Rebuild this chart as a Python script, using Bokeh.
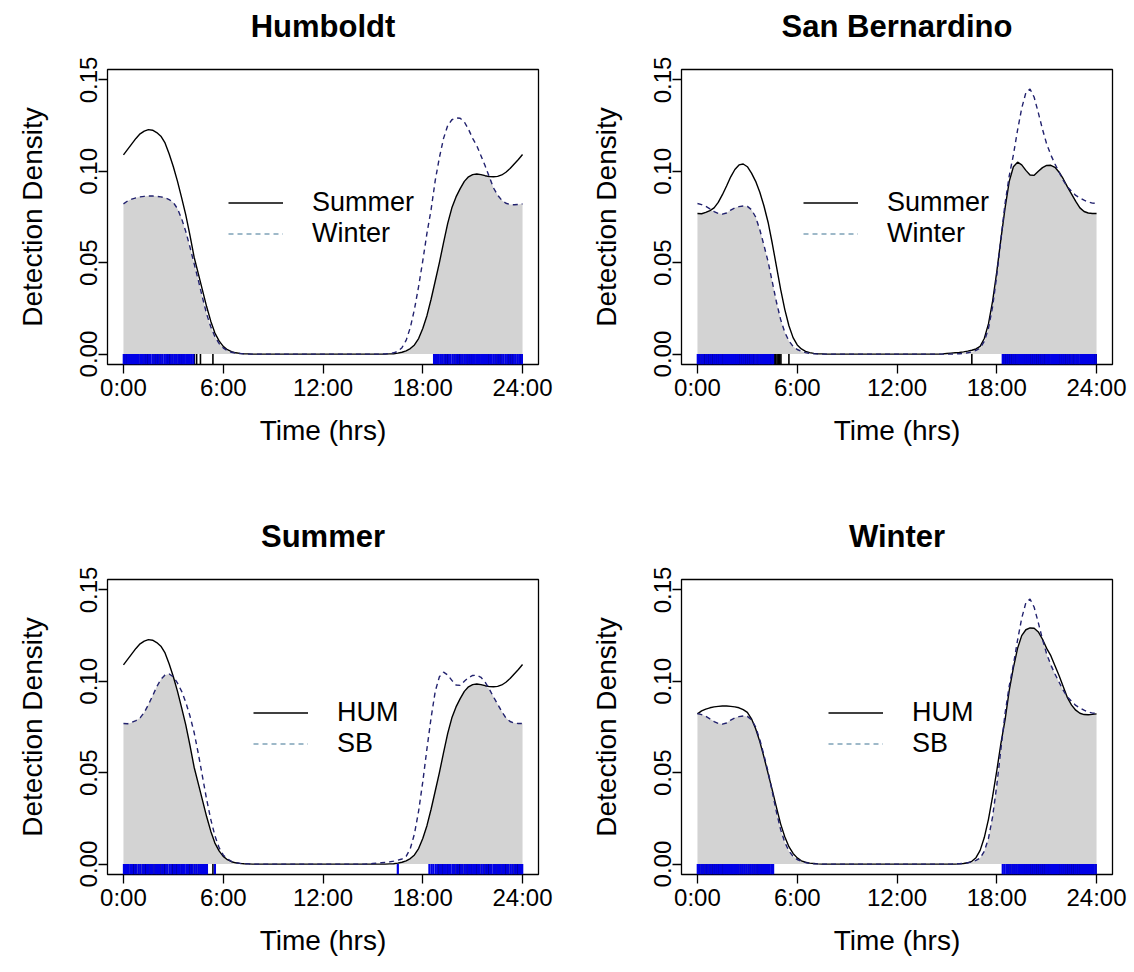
import numpy as np
from bokeh.plotting import figure
from bokeh.models import Range1d, FixedTicker, Legend, LegendItem, LinearAxis
from bokeh.layouts import gridplot
from bokeh.embed import file_html
from bokeh.resources import INLINE

# ---------------- data ----------------
hours = np.arange(0, 24.001, 0.25)  # kernel density evaluation grid (hrs)

hum_summer = [
    0.1090, 0.1120, 0.1150, 0.1180, 0.1205, 0.1220, 0.1228, 0.1225,
    0.1212, 0.1192, 0.1155, 0.1095, 0.1025, 0.0945, 0.0855, 0.0760,
    0.0650, 0.0530, 0.0440, 0.0350, 0.0260, 0.0180, 0.0115, 0.0072,
    0.0042, 0.0024, 0.0013, 0.0007, 0.0004, 0.0002, 0.0001, 0.0000,
    0, 0, 0, 0, 0, 0, 0, 0,
    0, 0, 0, 0, 0, 0, 0, 0,
    0, 0, 0, 0, 0, 0, 0, 0,
    0, 0, 0, 0, 0, 0, 0, 0.0000,
    0.0001, 0.0002, 0.0005, 0.0010, 0.0018, 0.0030, 0.0050, 0.0085,
    0.0140, 0.0210, 0.0300, 0.0400, 0.0500, 0.0610, 0.0715, 0.0800,
    0.0860, 0.0905, 0.0945, 0.0970, 0.0982, 0.0985, 0.0982, 0.0976,
    0.0971, 0.0970, 0.0972, 0.0980, 0.0995, 0.1015, 0.1040, 0.1065,
    0.1092]

hum_winter = [
    0.0822, 0.0838, 0.0848, 0.0855, 0.0860, 0.0863, 0.0865, 0.0865,
    0.0863, 0.0860, 0.0855, 0.0845, 0.0830, 0.0795, 0.0740, 0.0670,
    0.0585, 0.0495, 0.0405, 0.0310, 0.0220, 0.0150, 0.0095, 0.0058,
    0.0034, 0.0018, 0.0010, 0.0005, 0.0003, 0.0001, 0, 0,
    0, 0, 0, 0, 0, 0, 0, 0,
    0, 0, 0, 0, 0, 0, 0, 0,
    0, 0, 0, 0, 0, 0, 0, 0,
    0, 0, 0, 0, 0, 0, 0, 0.0001,
    0.0003, 0.0007, 0.0015, 0.0035, 0.0075, 0.0145, 0.0245, 0.0370,
    0.0510, 0.0660, 0.0790, 0.0950, 0.1075, 0.1180, 0.1250, 0.1282,
    0.1292, 0.1290, 0.1270, 0.1230, 0.1180, 0.1140, 0.1085, 0.1030,
    0.0970, 0.0910, 0.0870, 0.0842, 0.0825, 0.0818, 0.0817, 0.0819,
    0.0822]

sb_summer = [
    0.0769, 0.0768, 0.0775, 0.0785, 0.0800, 0.0830, 0.0872, 0.0920,
    0.0970, 0.1010, 0.1035, 0.1040, 0.1025, 0.0990, 0.0945, 0.0885,
    0.0810, 0.0720, 0.0605, 0.0480, 0.0355, 0.0245, 0.0155, 0.0090,
    0.0050, 0.0028, 0.0015, 0.0008, 0.0004, 0.0002, 0.0001, 0,
    0, 0, 0, 0, 0, 0, 0, 0,
    0, 0, 0, 0, 0, 0, 0, 0,
    0, 0, 0, 0, 0, 0, 0, 0,
    0, 0, 0, 0.0001, 0.0003, 0.0005, 0.0007, 0.0009,
    0.0012, 0.0016, 0.0021, 0.0028, 0.0042, 0.0085, 0.0165, 0.0290,
    0.0450, 0.0630, 0.0800, 0.0945, 0.1025, 0.1050, 0.1035, 0.1005,
    0.0980, 0.0978, 0.1000, 0.1020, 0.1032, 0.1033, 0.1022, 0.0995,
    0.0958, 0.0915, 0.0875, 0.0835, 0.0800, 0.0780, 0.0772, 0.0769,
    0.0769]

sb_winter = [
    0.0824, 0.0818, 0.0808, 0.0795, 0.0780, 0.0770, 0.0766, 0.0772,
    0.0788, 0.0800, 0.0807, 0.0810, 0.0808, 0.0790, 0.0750, 0.0680,
    0.0595, 0.0505, 0.0395, 0.0285, 0.0190, 0.0120, 0.0072, 0.0042,
    0.0025, 0.0015, 0.0008, 0.0004, 0.0002, 0.0001, 0, 0,
    0, 0, 0, 0, 0, 0, 0, 0,
    0, 0, 0, 0, 0, 0, 0, 0,
    0, 0, 0, 0, 0, 0, 0, 0,
    0, 0, 0, 0, 0, 0, 0.0001, 0.0002,
    0.0004, 0.0007, 0.0012, 0.0020, 0.0033, 0.0070, 0.0140, 0.0260,
    0.0430, 0.0630, 0.0825, 0.0975, 0.1090, 0.1225, 0.1345, 0.1430,
    0.1450, 0.1405, 0.1320, 0.1230, 0.1150, 0.1090, 0.1040, 0.0995,
    0.0950, 0.0915, 0.0890, 0.0868, 0.0855, 0.0842, 0.0832, 0.0826,
    0.0824]

# detection times (rug), hrs
hum_summer_det = [0.04, 0.18, 0.31, 0.47, 0.60, 0.74, 0.90, 1.03, 1.17, 1.33, 1.46, 1.60,
                  1.77, 1.90, 2.04, 2.20, 2.33, 2.48, 2.63, 2.77, 2.93, 3.06, 3.20, 3.37,
                  3.50, 3.66, 3.80, 3.95, 4.10, 4.26, 4.40, 4.63, 5.38,
                  18.92, 19.08, 19.20, 19.36, 19.50, 19.65, 19.80, 19.93, 20.08, 20.22,
                  20.37, 20.50, 20.66, 20.80, 20.95, 21.10, 21.23, 21.38, 21.52, 21.68,
                  21.82, 21.96, 22.10, 22.26, 22.40, 22.55, 22.70, 22.84, 22.98, 23.13,
                  23.27, 23.42, 23.57, 23.70, 23.86, 23.97]
hum_winter_det = [0.02, 0.14, 0.27, 0.39, 0.52, 0.63, 0.76, 0.88, 1.01, 1.12, 1.25, 1.37,
                  1.50, 1.61, 1.74, 1.86, 1.99, 2.10, 2.23, 2.35, 2.48, 2.60, 2.71, 2.84,
                  2.96, 3.09, 3.20, 3.33, 3.45, 3.58, 3.69, 3.82, 3.94, 4.07, 4.20,
                  18.68, 18.80, 18.93, 19.05, 19.17, 19.30, 19.42, 19.55, 19.66, 19.79,
                  19.91, 20.04, 20.15, 20.28, 20.40, 20.53, 20.64, 20.77, 20.89, 21.02,
                  21.13, 21.26, 21.38, 21.51, 21.62, 21.75, 21.87, 22.00, 22.11, 22.24,
                  22.36, 22.49, 22.60, 22.73, 22.85, 22.98, 23.09, 23.22, 23.34, 23.47,
                  23.58, 23.71, 23.83, 23.96]
sb_summer_det = [0.03, 0.15, 0.27, 0.41, 0.52, 0.66, 0.77, 0.91, 1.02, 1.16, 1.27, 1.41,
                 1.52, 1.66, 1.76, 1.91, 2.02, 2.14, 2.28, 2.39, 2.53, 2.64, 2.78, 2.89,
                 3.03, 3.14, 3.28, 3.39, 3.53, 3.64, 3.78, 3.89, 4.03, 4.14, 4.28, 4.39,
                 4.52, 4.62, 4.71, 4.79, 4.87, 4.95, 5.02, 5.50, 16.50,
                 18.40, 18.53, 18.64, 18.78, 18.89, 19.03, 19.14, 19.28, 19.39, 19.53,
                 19.64, 19.78, 19.89, 20.03, 20.14, 20.28, 20.39, 20.53, 20.64, 20.78,
                 20.89, 21.03, 21.14, 21.28, 21.39, 21.53, 21.64, 21.78, 21.89, 22.03,
                 22.14, 22.28, 22.39, 22.53, 22.64, 22.78, 22.89, 23.03, 23.14, 23.28,
                 23.39, 23.53, 23.64, 23.78, 23.89, 23.98]
sb_winter_det = [0.02, 0.13, 0.25, 0.36, 0.49, 0.60, 0.72, 0.83, 0.96, 1.07, 1.19, 1.31,
                 1.42, 1.55, 1.66, 1.78, 1.90, 2.01, 2.13, 2.25, 2.37, 2.48, 2.60, 2.72,
                 2.83, 2.95, 3.07, 3.19, 3.30, 3.42, 3.54, 3.66, 3.77, 3.89, 4.00, 4.12,
                 4.24, 4.35, 4.47, 4.55,
                 18.36, 18.47, 18.59, 18.70, 18.82, 18.94, 19.05, 19.17, 19.29, 19.40,
                 19.52, 19.63, 19.75, 19.87, 19.98, 20.10, 20.22, 20.33, 20.45, 20.57,
                 20.68, 20.80, 20.92, 21.03, 21.15, 21.27, 21.38, 21.50, 21.62, 21.73,
                 21.85, 21.97, 22.08, 22.20, 22.32, 22.43, 22.55, 22.67, 22.78, 22.90,
                 23.02, 23.13, 23.25, 23.37, 23.48, 23.60, 23.72, 23.83, 23.95]

x_ticks = [0, 6, 12, 18, 24]
x_tick_labels = ["0:00", "6:00", "12:00", "18:00", "24:00"]
y_ticks = [0, 0.05, 0.10, 0.15]
y_tick_labels = ["0.00", "0.05", "0.10", "0.15"]

panels = [
    ("Humboldt", hum_summer, hum_winter, hum_summer_det, hum_winter_det, ["Summer", "Winter"]),
    ("San Bernardino", sb_summer, sb_winter, sb_summer_det, sb_winter_det, ["Summer", "Winter"]),
    ("Summer", hum_summer, sb_summer, hum_summer_det, sb_summer_det, ["HUM", "SB"]),
    ("Winter", hum_winter, sb_winter, hum_winter_det, sb_winter_det, ["HUM", "SB"]),
]

# ---------------- styling ----------------
FONT = "Liberation Sans"
Y0, Y1 = -0.0057, 0.1557
X0, X1 = -0.96, 24.96
# (left, right, top, bottom, legend_x)
layout_cfg = [
    (107, 29, 69, 122, 121),
    (114, 22, 69, 122, 122),
    (107, 29, 93, 98, 146),
    (114, 22, 93, 98, 147),
]


def make_panel(cfg, spec):
    left, right, top, bottom, leg_x = cfg
    title, d1, d2, t1, t2, labels = spec
    p = figure(width=567, height=486, output_backend="svg", toolbar_location=None,
               x_range=Range1d(X0, X1), y_range=Range1d(Y0, Y1),
               min_border_left=left, min_border_right=right,
               min_border_top=top, min_border_bottom=bottom)
    p.background_fill_color = "white"
    p.border_fill_color = "white"
    p.outline_line_color = "black"
    p.outline_line_width = 1.3
    p.grid.visible = False

    xa = p.below[0]
    ya = p.left[0]

    # invisible spacer between frame and title (blank, transparent axis label)
    spacer = LinearAxis(ticker=FixedTicker(ticks=[]), axis_line_color=None,
                        major_tick_line_color=None, minor_tick_line_color=None,
                        major_tick_in=0, major_tick_out=0, minor_tick_in=0,
                        minor_tick_out=0, major_label_standoff=0,
                        axis_label=" ", axis_label_standoff=6,
                        axis_label_text_font_size="16px", axis_label_text_alpha=0)
    p.add_layout(spacer, "above")

    p.title.text = title
    p.title.align = "center"
    p.title.vertical_align = "bottom"
    p.title.text_font = FONT
    p.title.text_font_size = "31px"
    p.title.text_font_style = "bold"
    p.title.text_color = "black"
    p.title.standoff = 0

    for ax in (xa, ya):
        ax.axis_line_color = None
        ax.major_tick_line_color = "black"
        ax.major_tick_line_width = 1.3
        ax.major_tick_in = 0
        ax.major_tick_out = 9
        ax.minor_tick_line_color = None
        ax.major_label_text_font = FONT
        ax.major_label_text_font_size = "24px"
        ax.major_label_text_color = "black"
        ax.axis_label_text_font = FONT
        ax.axis_label_text_font_size = "28px"
        ax.axis_label_text_font_style = "normal"
        ax.axis_label_text_color = "black"

    xa.ticker = FixedTicker(ticks=x_ticks)
    xa.major_label_overrides = {t: l for t, l in zip(x_ticks, x_tick_labels)}
    xa.axis_label = "Time (hrs)"
    xa.major_label_standoff = 0
    xa.axis_label_standoff = 11

    ya.ticker = FixedTicker(ticks=y_ticks)
    ya.major_label_overrides = {t: l for t, l in zip(y_ticks, y_tick_labels)}
    ya.major_label_orientation = "vertical"
    ya.axis_label = "Detection Density"
    ya.major_label_standoff = 1
    ya.axis_label_standoff = 30

    a1 = np.array(d1, dtype=float)
    a2 = np.array(d2, dtype=float)
    p.varea(x=hours, y1=np.zeros_like(hours), y2=np.minimum(a1, a2),
            fill_color="#d3d3d3", fill_alpha=1.0)

    # rugs
    p.segment(x0=t1, y0=[Y0] * len(t1), x1=t1, y1=[0] * len(t1),
              line_color="black", line_width=1.6)
    p.segment(x0=t2, y0=[Y0] * len(t2), x1=t2, y1=[0] * len(t2),
              line_color="#0000e6", line_width=2.2)

    p.line(hours, a1, line_color="black", line_width=1.4)
    p.line(hours, a2, line_color="#22226e", line_width=1.4, line_dash="5 4")

    # legend proxies placed outside the visible ranges
    g1 = p.line([X0 - 5, X0 - 4], [Y0 - 1, Y0 - 1], line_color="black", line_width=1.4)
    g2 = p.line([X0 - 5, X0 - 4], [Y0 - 1, Y0 - 1], line_color="#7fa3b8",
                line_width=1.4, line_dash="5 4")
    legend = Legend(items=[LegendItem(label=labels[0], renderers=[g1]),
                           LegendItem(label=labels[1], renderers=[g2])],
                    location=(leg_x, 115), orientation="vertical",
                    glyph_width=55, glyph_height=29, label_height=29,
                    label_standoff=29, spacing=0, padding=0, margin=0,
                    border_line_alpha=0, background_fill_alpha=0,
                    label_text_font=FONT, label_text_font_size="27px",
                    label_text_color="black")
    p.add_layout(legend)
    return p


figs = [make_panel(c, s) for c, s in zip(layout_cfg, panels)]
grid = gridplot([[figs[0], figs[1]], [figs[2], figs[3]]], toolbar_location=None)

open("out.html", "w").write(file_html(grid, INLINE))
